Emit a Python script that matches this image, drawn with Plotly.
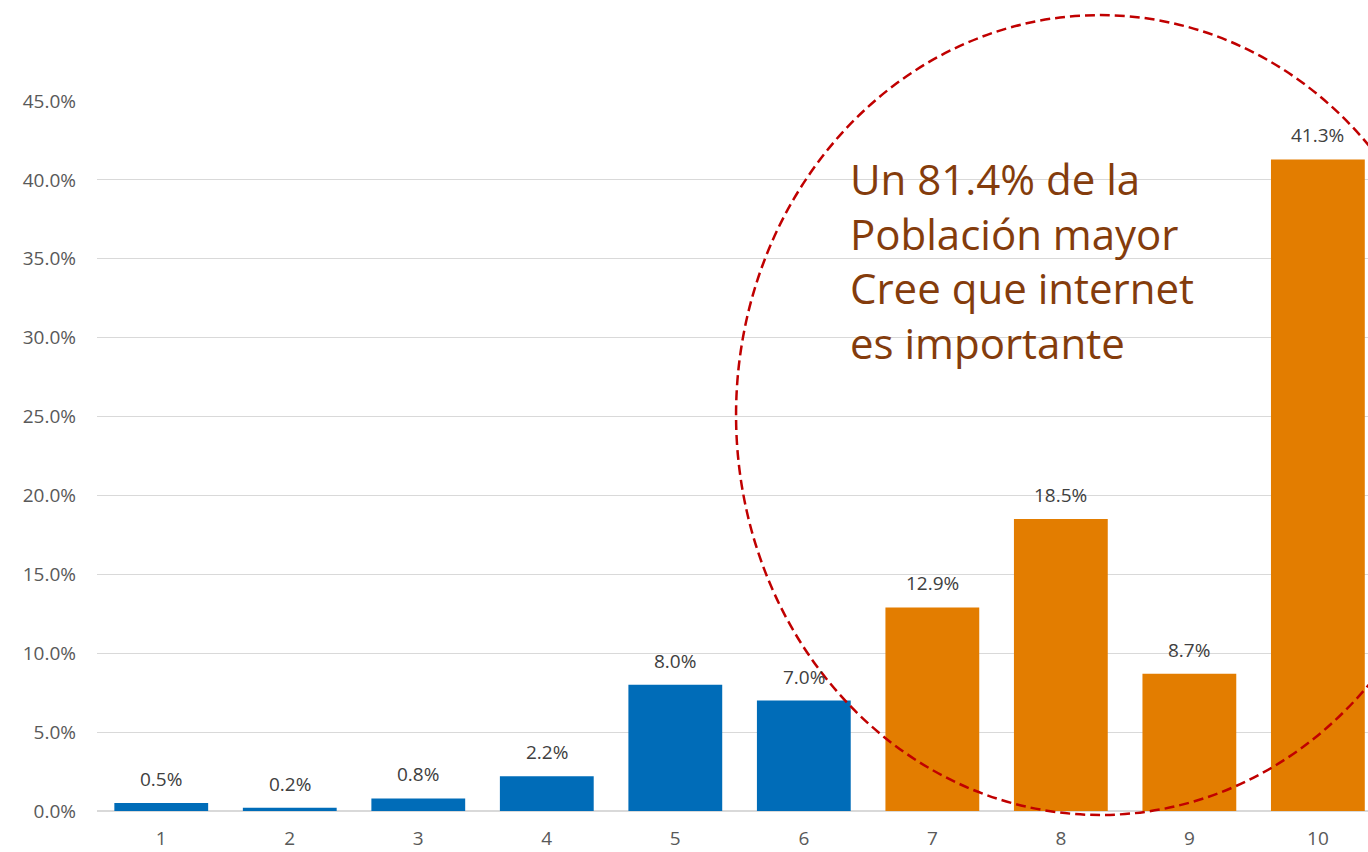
import plotly.graph_objects as go

# puntuacion 1-10 y porcentaje de respuestas
categorias = [1, 2, 3, 4, 5, 6, 7, 8, 9, 10]
porcentajes = [0.5, 0.2, 0.8, 2.2, 8.0, 7.0, 12.9, 18.5, 8.7, 41.3]
colores = ["#006CB8"] * 6 + ["#E37D00"] * 4
ticks_y = [0, 5, 10, 15, 20, 25, 30, 35, 40, 45]
ticks_y_txt = [f"{v:.1f}%" for v in ticks_y]

fig = go.Figure()

fig.add_trace(go.Bar(
    x=categorias, y=porcentajes,
    marker=dict(color=colores, line=dict(width=0)),
    width=0.73,
    showlegend=False,
    hoverinfo="x+y",
))

# etiquetas de datos encima de cada barra
for c, v in zip(categorias, porcentajes):
    fig.add_annotation(x=c, y=v, text=f"{v:.1f}%", showarrow=False,
                       yanchor="bottom", yshift=9,
                       font=dict(family="Open Sans", size=19, color="#404040"))

# el circulo discontinuo rojo
fig.add_shape(type="circle", xref="paper", yref="paper",
              x0=0.5028, x1=1.0755, y0=-0.0056, y1=1.121,
              line=dict(color="#C00000", width=2.5, dash="10px,5px"),
              layer="above")

fig.add_annotation(
    xref="paper", yref="paper", x=0.591, y=0.775,
    xanchor="left", yanchor="middle", align="left", showarrow=False,
    text="Un 81.4% de la<br>Población mayor<br>Cree que internet<br>es importante",
    font=dict(family="Open Sans", size=42, color="#843C0C"),
)

fig.update_xaxes(
    range=[0.5, 10.39], tickvals=categorias, showgrid=False, showline=False,
    ticks="", ticklabelstandoff=14,
    tickfont=dict(family="Open Sans", size=19, color="#595959"),
)
fig.update_yaxes(
    range=[0, 45], tickvals=ticks_y, ticktext=ticks_y_txt,
    showgrid=True, gridcolor="#D9D9D9", gridwidth=1,
    zeroline=True, zerolinecolor="#D9D9D9", zerolinewidth=2,
    ticks="", ticklabelstandoff=20,
    tickfont=dict(family="Open Sans", size=19, color="#595959"),
)

fig.update_layout(
    width=1368, height=852,
    margin=dict(l=97, r=0, t=101, b=41),
    plot_bgcolor="white", paper_bgcolor="white",
)

# quitar el margen del body para que la figura ocupe toda la ventana
fig.write_html("out.html", config={"displayModeBar": False},
               post_script="document.body.style.margin='0';"
                           "document.body.style.overflow='hidden';")
